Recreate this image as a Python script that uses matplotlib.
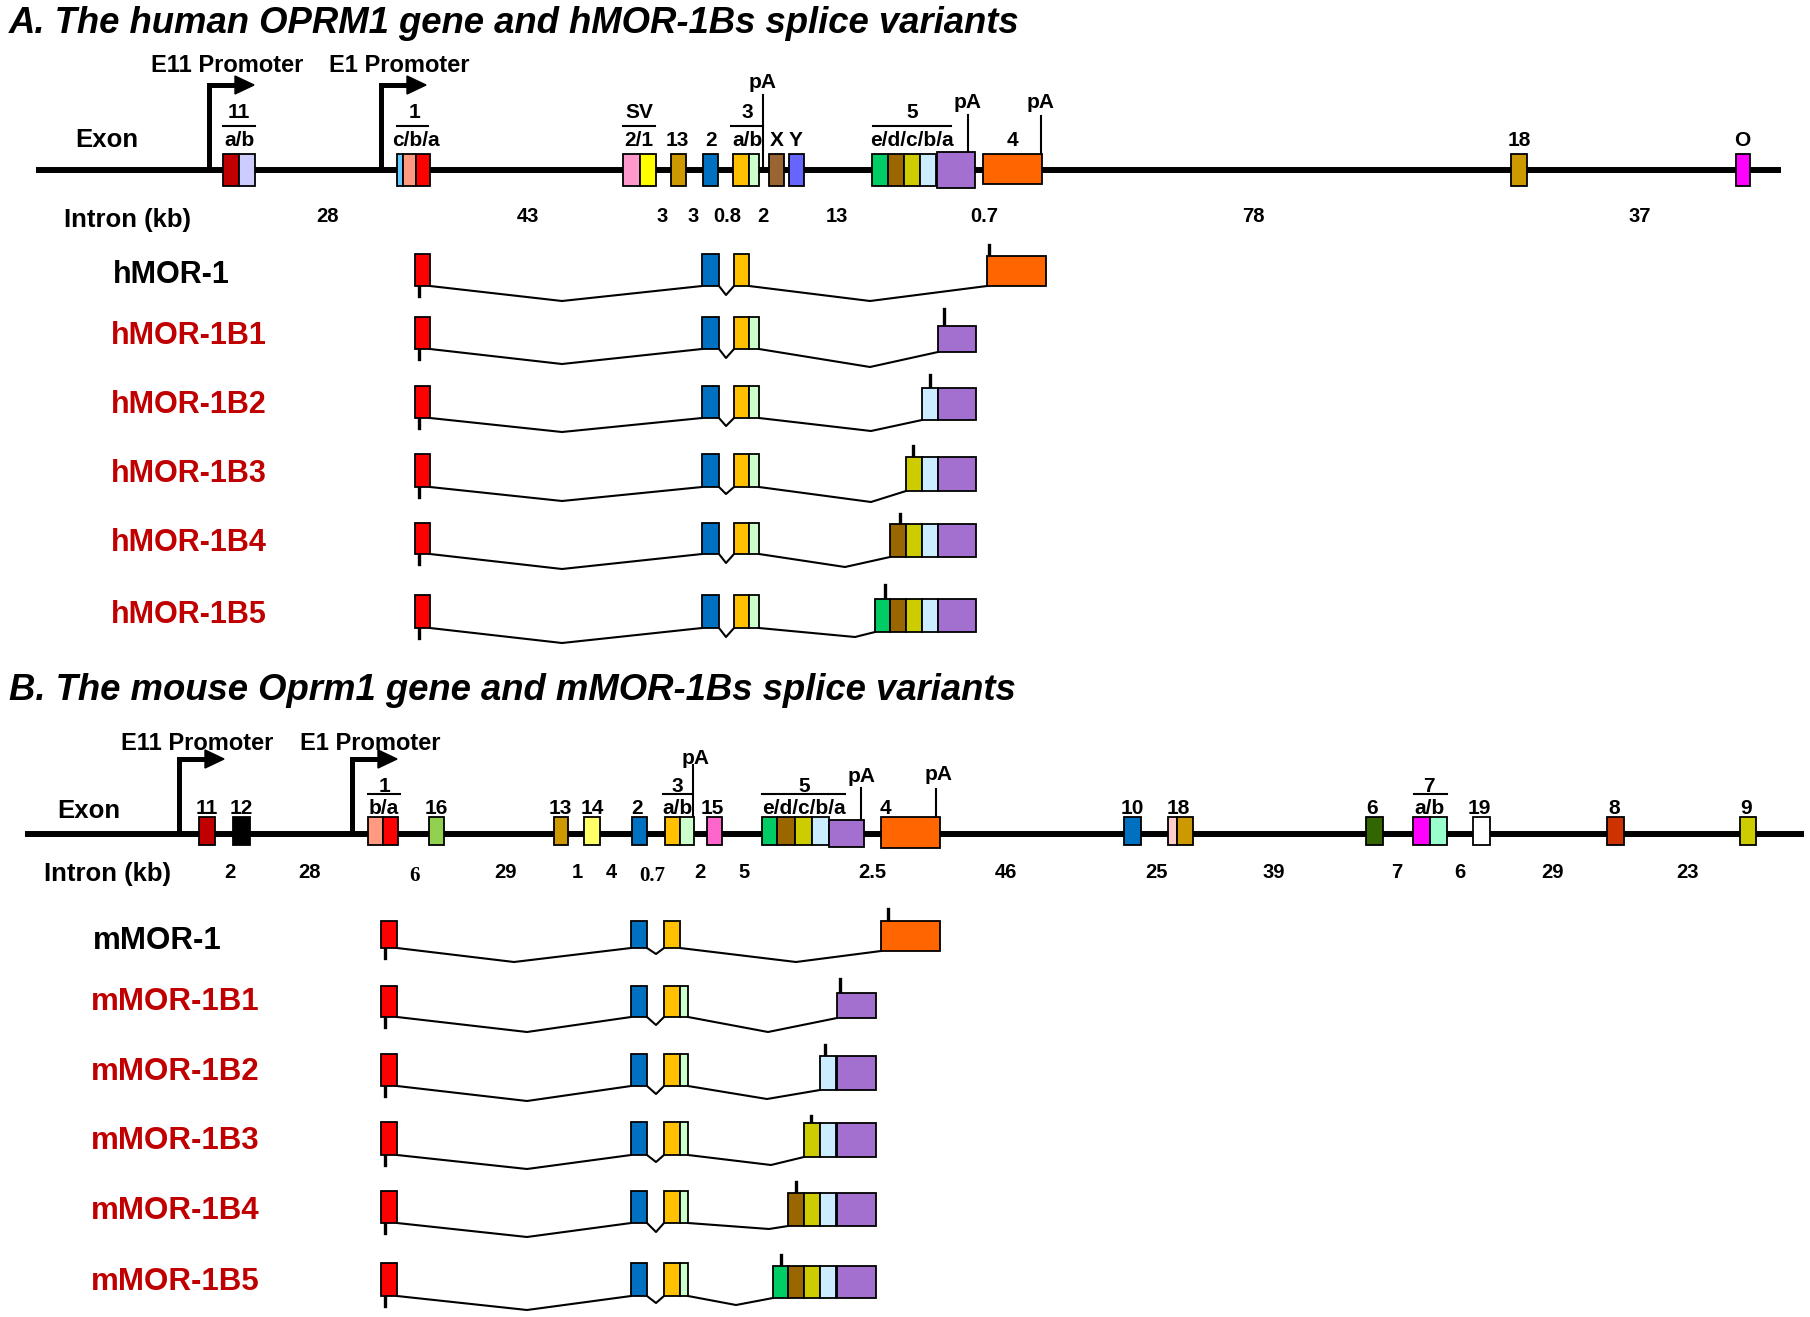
import matplotlib.pyplot as plt
from matplotlib.patches import Rectangle, Polygon

plt.rcParams['font.family'] = ['Liberation Sans', 'DejaVu Sans']

# exon colour key (shared by both genes)
colors = {
    '11a': '#C00000', '11b': '#CCCCFF', '1c': '#66CCFF', '1b': '#FF9980', '1a': '#FF0000',
    'SV2': '#FF99CC', 'SV1': '#FFFF00', '13': '#CC9900', '2': '#0070C0', '3a': '#FFC000',
    '3b': '#CCFFCC', 'X': '#996633', 'Y': '#6666FF', '5e': '#00CC66', '5d': '#996600',
    '5c': '#CCCC00', '5b': '#CCECFF', '5a': '#A370D0', '4': '#FF6600', '18': '#CC9900',
    'O': '#FF00FF', '11': '#C00000', '12': '#000000', '16': '#92D050', '14': '#FFFF66',
    '15': '#FF66CC', '10': '#0070C0', '18p': '#FFCCCC', '6': '#336600', '7a': '#FF00FF',
    '7b': '#99FFCC', '19': '#FFFFFF', '8': '#CC3300', '9': '#CCCC00',
}

# ---------------- A: human OPRM1 ----------------
hs_exons = ['11a', '11b', '1c', '1b', '1a', 'SV2', 'SV1', '13', '2', '3a', '3b', 'X', 'Y',
            '5e', '5d', '5c', '5b', '5a', '4', '18', 'O']
hs_x0 = [223, 239, 397, 403, 416, 623, 640, 671, 703, 733, 749, 769, 789,
         872, 888, 904, 920, 937, 983, 1511, 1736]
hs_x1 = [239, 255, 403, 416, 430, 640, 656, 686, 718, 749, 759, 784, 804,
         888, 904, 920, 936, 975, 1042, 1527, 1750]
hs_single = ['13', '2', 'X', 'Y', '4', '18', 'O']
hs_single_x = [677, 711, 777, 796, 1012, 1519, 1742]
hs_group_top = ['11', '1', 'SV', '3', '5']
hs_group_bottom = ['a/b', 'c/b/a', '2/1', 'a/b', 'e/d/c/b/a']
hs_group_x = [239, 414, 639, 747, 912]
hs_group_bar = [(223, 255), (397, 428), (623, 655), (731, 763), (873, 951)]
hs_pA_x = [763, 968, 1041]
hs_pA_top = [95, 115, 116]
hs_pA_bottom = [170, 153, 154]
hs_intron_kb = ['28', '43', '3', '3', '0.8', '2', '13', '0.7', '78', '37']
hs_intron_x = [327, 528, 662, 693, 727, 763, 837, 984, 1253, 1640]
hs_promoters = ['E11 Promoter', 'E1 Promoter']
hs_prom_x = [209, 381]

hs_variants = ['hMOR-1', 'hMOR-1B1', 'hMOR-1B2', 'hMOR-1B3', 'hMOR-1B4', 'hMOR-1B5']
hs_variant_exons = [
    ['1a', '2', '3a', '4'],
    ['1a', '2', '3a', '3b', '5a'],
    ['1a', '2', '3a', '3b', '5b', '5a'],
    ['1a', '2', '3a', '3b', '5c', '5b', '5a'],
    ['1a', '2', '3a', '3b', '5d', '5c', '5b', '5a'],
    ['1a', '2', '3a', '3b', '5e', '5d', '5c', '5b', '5a'],
]
hs_tx_x0 = {'1a': 415, '2': 702, '3a': 734, '3b': 749, '4': 987,
            '5e': 875, '5d': 890, '5c': 906, '5b': 922, '5a': 938}
hs_tx_x1 = {'1a': 430, '2': 719, '3a': 749, '3b': 759, '4': 1046,
            '5e': 890, '5d': 906, '5c': 922, '5b': 938, '5a': 976}
hs_row_top = [254, 317, 386, 454, 523, 595]
hs_row_bot = [286, 349, 418, 487, 554, 628]
hs_tail_top = [256, 326, 388, 457, 524, 599]
hs_tail_bot = [286, 352, 420, 491, 557, 632]
hs_v1 = [(562, 301), (562, 364), (562, 432), (562, 501), (562, 569), (562, 643)]
hs_v2 = [(726, 295), (726, 358), (726, 426), (726, 494), (726, 563), (726, 637)]
hs_v3 = [(870, 301), (870, 367), (871, 431), (871, 502), (845, 567), (855, 637)]
hs_tick_x = [989, 944, 930, 913, 900, 885]
hs_tick_top = [245, 309, 375, 446, 514, 585]
hs_label_y = [275, 336, 405, 474, 543, 615]

# ---------------- B: mouse Oprm1 ----------------
mm_exons = ['11', '12', '1b', '1a', '16', '13', '14', '2', '3a', '3b', '15', '5e', '5d',
            '5c', '5b', '5a', '4', '10', '18p', '18', '6', '7a', '7b', '19', '8', '9']
mm_x0 = [199, 233, 368, 383, 429, 554, 584, 632, 665, 680, 707, 762, 777,
         795, 812, 829, 881, 1124, 1168, 1177, 1366, 1413, 1430, 1473, 1607, 1740]
mm_x1 = [215, 250, 383, 398, 444, 568, 600, 647, 680, 694, 722, 777, 795,
         812, 829, 864, 940, 1141, 1177, 1193, 1383, 1430, 1447, 1490, 1624, 1756]
mm_single = ['11', '12', '16', '13', '14', '2', '15', '4', '10', '18', '6', '19', '8', '9']
mm_single_x = [207, 241, 436, 560, 592, 637, 712, 885, 1132, 1178, 1372, 1479, 1614, 1746]
mm_group_top = ['1', '3', '5', '7']
mm_group_bottom = ['b/a', 'a/b', 'e/d/c/b/a', 'a/b']
mm_group_x = [384, 677, 804, 1429]
mm_group_bar = [(368, 400), (663, 692), (762, 845), (1414, 1447)]
mm_pA_x = [693, 861, 936]
mm_pA_top = [765, 788, 789]
mm_pA_bottom = [834, 820, 817]
mm_pA_label = [(696, 759), (862, 777), (939, 774)]
mm_intron_kb = ['2', '28', '6', '29', '1', '4', '0.7', '2', '5', '2.5', '46',
                '25', '39', '7', '6', '29', '23']
mm_intron_x = [230, 309, 414, 505, 577, 611, 652, 700, 744, 872, 1006,
               1156, 1274, 1397, 1460, 1552, 1687]
mm_intron_serif = [False, False, True, False, False, False, True, False, False, False,
                   False, False, False, False, False, False, False]
mm_promoters = ['E11 Promoter', 'E1 Promoter']
mm_prom_x = [179, 352]

mm_variants = ['mMOR-1', 'mMOR-1B1', 'mMOR-1B2', 'mMOR-1B3', 'mMOR-1B4', 'mMOR-1B5']
mm_variant_exons = hs_variant_exons
mm_tx_x0 = {'1a': 381, '2': 631, '3a': 664, '3b': 680, '4': 881,
            '5e': 773, '5d': 788, '5c': 804, '5b': 820, '5a': 837}
mm_tx_x1 = {'1a': 397, '2': 647, '3a': 680, '3b': 688, '4': 940,
            '5e': 788, '5d': 804, '5c': 820, '5b': 836, '5a': 876}
mm_row_top = [921, 986, 1054, 1122, 1191, 1263]
mm_row_bot = [948, 1017, 1086, 1155, 1223, 1296]
mm_tail_top = [921, 993, 1056, 1123, 1193, 1266]
mm_tail_bot = [951, 1018, 1090, 1157, 1226, 1298]
mm_v1 = [(514, 962), (527, 1032), (527, 1101), (527, 1169), (527, 1237), (527, 1310)]
mm_v2 = [(656, 954), (656, 1025), (656, 1094), (656, 1162), (656, 1232), (656, 1303)]
mm_v3 = [(796, 962), (768, 1032), (767, 1099), (771, 1165), (769, 1229), (736, 1305)]
mm_tick_x = [888, 840, 825, 811, 796, 781]
mm_tick_top = [909, 979, 1045, 1116, 1182, 1255]
mm_label_y = [941, 1002, 1072, 1141, 1211, 1282]

RED = '#C00000'

W, H = 1810, 1317
fig = plt.figure(figsize=(W / 100, H / 100), dpi=100)
ax = fig.add_axes([0, 0, 1, 1])
ax.set_xlim(0, W)
ax.set_ylim(H, 0)
ax.axis('off')


def box(x0, x1, y0, y1, c):
    ax.add_patch(Rectangle((x0, y0), x1 - x0, y1 - y0, facecolor=c,
                           edgecolor='black', lw=1.3, zorder=3))


def txt(x, y, s, size, ha='center', **kw):
    ax.text(x, y, s, fontsize=size, ha=ha, va='center', fontweight='bold', **kw)


def promoter(x, yline, ytop, label, ylab):
    ax.plot([x, x, x + 27], [yline, ytop, ytop], color='k', lw=3.6,
            solid_joinstyle='miter', solid_capstyle='butt', zorder=2)
    ax.add_patch(Polygon([(x + 26, ytop - 9), (x + 45, ytop), (x + 26, ytop + 9)],
                         closed=True, color='k', zorder=2))
    txt(x + 18, ylab, label, 17)


def gene(ycen, xa, xb, names, x0s, x1s, ytop, ybot, tall):
    ax.plot([xa, xb], [ycen, ycen], color='k', lw=4.3, solid_capstyle='butt', zorder=1)
    for n, a, b in zip(names, x0s, x1s):
        t, bt = tall.get(n, (ytop, ybot))
        box(a, b, t, bt, colors[n])


def variants(names, exon_lists, tx0, tx1, row_top, row_bot, tail_top, tail_bot,
             v1, v2, v3, tick_x, tick_top, label_x, label_y, lsize):
    for i, name in enumerate(names):
        ex = exon_lists[i]
        # group adjacent exons into blocks
        blocks = [[ex[0]]]
        for e in ex[1:]:
            if abs(tx0[e] - tx1[blocks[-1][-1]]) < 3:
                blocks[-1].append(e)
            else:
                blocks.append([e])
        bots = []
        for j, bl in enumerate(blocks):
            last = j == len(blocks) - 1
            t = tail_top[i] if last else row_top[i]
            b = tail_bot[i] if last else row_bot[i]
            bots.append(b)
            for e in bl:
                box(tx0[e], tx1[e], t, b, colors[e])
        valleys = [v1[i], v2[i], v3[i]]
        for j in range(len(blocks) - 1):
            xa, ya = tx1[blocks[j][-1]], bots[j]
            xb, yb = tx0[blocks[j + 1][0]], bots[j + 1]
            vx, vy = valleys[j]
            ax.plot([xa, vx, xb], [ya, vy, yb], color='k', lw=1.5, zorder=2)
        # start tick under exon 1 and pA tick on last block
        x1a = tx0[blocks[0][0]] + 3.5
        ax.plot([x1a, x1a], [row_bot[i], row_bot[i] + 10], color='k', lw=2.4, zorder=2)
        ax.plot([tick_x[i], tick_x[i]], [tick_top[i], tail_top[i]], color='k', lw=2.4, zorder=2)
        txt(label_x[i], label_y[i], name, lsize, ha='left',
            color='black' if i == 0 else RED)


# ---------- Panel A ----------
ax.text(9, 33, 'A. The human OPRM1 gene and hMOR-1Bs splice variants', fontsize=26.3,
        fontweight='bold', fontstyle='italic', ha='left', va='baseline')
gene(170, 36, 1781, hs_exons, hs_x0, hs_x1, 154, 186, {'5a': (152, 188), '4': (154, 184)})
for lab, x in zip(hs_promoters, hs_prom_x):
    promoter(x, 170, 85, lab, 66)
for lab, x in zip(hs_single, hs_single_x):
    txt(x, 140, lab, 15)
for t, b, x, (ba, bb) in zip(hs_group_top, hs_group_bottom, hs_group_x, hs_group_bar):
    txt(x, 113, t, 15)
    ax.plot([ba, bb], [126, 126], color='k', lw=1.5)
    txt(x + (2 if b == 'c/b/a' else 0), 140, b, 15)
for x, t, b in zip(hs_pA_x, hs_pA_top, hs_pA_bottom):
    ax.plot([x, x], [t, b], color='k', lw=1.5, zorder=2)
    txt(x, t - 13, 'pA', 15)
txt(107, 140, 'Exon', 18.5)
txt(127, 220, 'Intron (kb)', 18.5)
for lab, x in zip(hs_intron_kb, hs_intron_x):
    txt(x, 217, lab, 14.5)
variants(hs_variants, hs_variant_exons, hs_tx_x0, hs_tx_x1, hs_row_top, hs_row_bot,
         hs_tail_top, hs_tail_bot, hs_v1, hs_v2, hs_v3, hs_tick_x, hs_tick_top,
         [113, 111, 111, 111, 111, 111], hs_label_y, 22)

# ---------- Panel B ----------
ax.text(9, 700, 'B. The mouse Oprm1 gene and mMOR-1Bs splice variants', fontsize=26.3,
        fontweight='bold', fontstyle='italic', ha='left', va='baseline')
gene(834, 25, 1804, mm_exons, mm_x0, mm_x1, 817, 845, {'5a': (820, 847), '4': (817, 848)})
for lab, x in zip(mm_promoters, mm_prom_x):
    promoter(x, 834, 759, lab, 744)
for lab, x in zip(mm_single, mm_single_x):
    txt(x, 808, lab, 15)
for t, b, x, (ba, bb) in zip(mm_group_top, mm_group_bottom, mm_group_x, mm_group_bar):
    txt(x, 786, t, 15)
    ax.plot([ba, bb], [794, 794], color='k', lw=1.5)
    txt(x, 808, b, 15)
for x, t, b, (lx, ly) in zip(mm_pA_x, mm_pA_top, mm_pA_bottom, mm_pA_label):
    ax.plot([x, x], [t, b], color='k', lw=1.5, zorder=2)
    txt(lx, ly, 'pA', 15)
txt(89, 811, 'Exon', 18.5)
txt(107, 874, 'Intron (kb)', 18.5)
for lab, x, serif in zip(mm_intron_kb, mm_intron_x, mm_intron_serif):
    if serif:
        ax.text(x, 876, lab, fontsize=15, ha='center', va='center', fontweight='bold',
                family=['Liberation Serif', 'DejaVu Serif'])
    else:
        txt(x, 873, lab, 14.5)
variants(mm_variants, mm_variant_exons, mm_tx_x0, mm_tx_x1, mm_row_top, mm_row_bot,
         mm_tail_top, mm_tail_bot, mm_v1, mm_v2, mm_v3, mm_tick_x, mm_tick_top,
         [93, 91, 91, 91, 91, 91], mm_label_y, 22.5)

fig.savefig('out.png', dpi=100)
